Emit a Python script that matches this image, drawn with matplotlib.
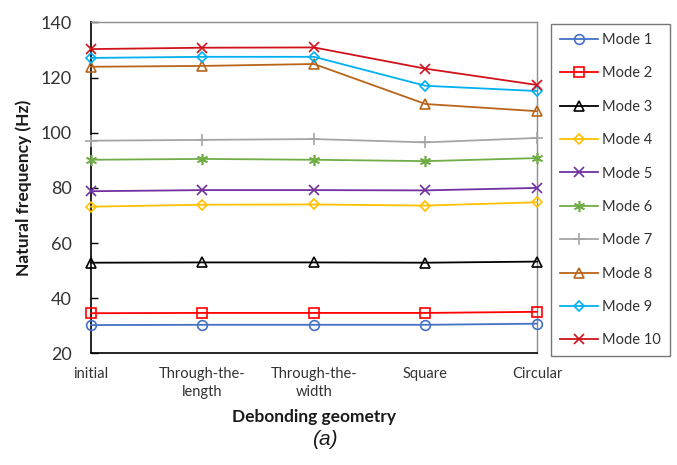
import matplotlib
matplotlib.use("Agg")
import matplotlib.pyplot as plt

categories = ["initial", "Through-the-\nlength", "Through-the-\nwidth", "Square", "Circular"]
mode_labels = [f"Mode {i}" for i in range(1, 11)]

mode1 = [30.3, 30.4, 30.4, 30.4, 30.8]
mode2 = [34.6, 34.7, 34.7, 34.7, 35.1]
mode3 = [52.9, 53.0, 53.0, 52.9, 53.3]
mode4 = [73.2, 73.9, 74.0, 73.6, 74.8]
mode5 = [78.8, 79.2, 79.2, 79.1, 80.0]
mode6 = [90.2, 90.5, 90.2, 89.7, 90.8]
mode7 = [97.1, 97.4, 97.7, 96.5, 98.1]
mode8 = [123.9, 124.2, 124.9, 110.4, 107.8]
mode9 = [127.1, 127.5, 127.5, 117.0, 115.1]
mode10 = [130.3, 130.8, 130.9, 123.2, 117.3]

series = [mode1, mode2, mode3, mode4, mode5, mode6, mode7, mode8, mode9, mode10]
colors = ["#4472C4", "#FF0000", "#000000", "#FFC000", "#7030A0",
          "#70AD47", "#A5A5A5", "#B8651B", "#00B0F0", "#D0121B"]
markers = ["o", "s", "^", "D", "x", (6, 2, 0), "+", "^", "D", "x"]
msizes = [7, 7, 7, 5.5, 7, 8, 8, 7, 5.5, 7.5]

plt.rcParams["font.family"] = ["Lato", "DejaVu Sans"]

fig = plt.figure(figsize=(6.77, 4.65), dpi=100)
ax = fig.add_axes([0.1344, 0.2398, 0.6588, 0.7122])

x = list(range(len(categories)))
for vals, lab, c, m, ms in zip(series, mode_labels, colors, markers, msizes):
    ax.plot(x, vals, color=c, marker=m, markersize=ms, markerfacecolor="none",
            markeredgecolor=c, markeredgewidth=1.2, linewidth=1.3, label=lab,
            clip_on=False, zorder=3)

ax.set_xlim(0, 4)
ax.set_ylim(20, 140)
ax.set_yticks(range(20, 141, 20))
ax.set_xticks(x)
ax.set_xticklabels(categories, fontsize=10.5, color="#333333", linespacing=1.35)
ax.tick_params(axis="x", length=0, pad=10)
ax.tick_params(axis="y", direction="in", length=5, width=1, labelsize=13,
               labelcolor="#333333", color="black", pad=14)

for side in ("left", "bottom"):
    ax.spines[side].set_color("black")
    ax.spines[side].set_linewidth(1.2)
for side in ("top", "right"):
    ax.spines[side].set_color("#8C8C8C")
    ax.spines[side].set_linewidth(1.0)

ax.set_ylabel("Natural frequency (Hz)", fontsize=12.5, fontweight="bold",
              color="#1a1a1a", labelpad=6)
ax.set_xlabel("Debonding geometry", fontsize=12.5, fontweight="bold",
              color="#1a1a1a", labelpad=7)

leg = fig.legend(loc="upper left", bbox_to_anchor=(0.814, 0.948),
                 fontsize=10.5, frameon=True, fancybox=False, edgecolor="#555555",
                 labelspacing=1.33, handlelength=2.6, handletextpad=0.3,
                 borderpad=0.6, borderaxespad=0)
leg.get_frame().set_linewidth(1.0)
for t in leg.get_texts():
    t.set_color("#333333")

fig.text(0.48, 0.055, "(a)", fontsize=15, style="italic", ha="center", va="center",
         family=["Liberation Sans", "DejaVu Sans"], color="#1a1a1a")

fig.savefig("out.png", dpi=100)
